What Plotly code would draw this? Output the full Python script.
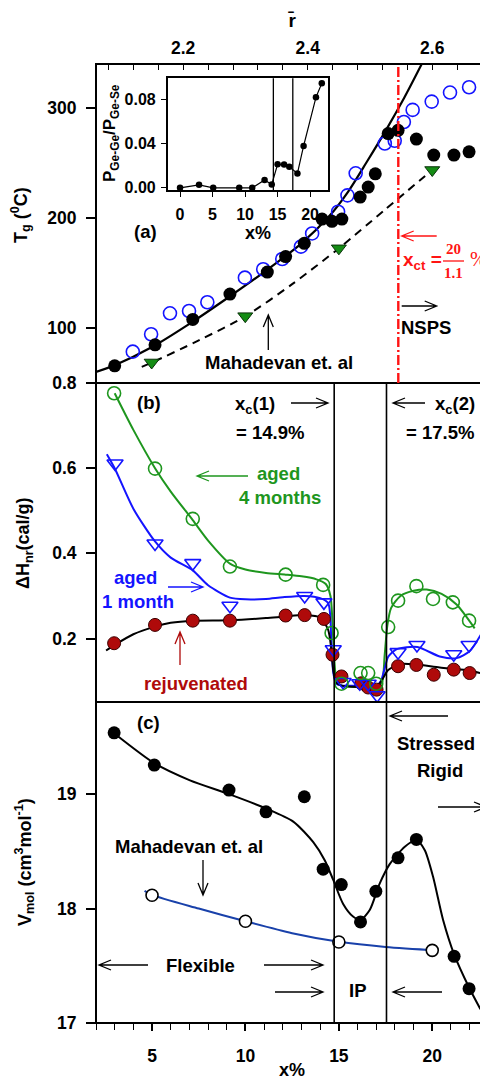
import plotly.graph_objects as go

# ---------------- data ----------------
# panel (a): Tg vs x%
tg_black_x = [3.0, 5.16, 7.18, 9.17, 11.17, 12.15, 13.15, 14.1, 14.63, 15.16, 16.14, 16.57, 16.95, 17.64, 18.17, 19.15, 20.08, 21.16, 21.97]
tg_black_y = [66, 85, 108, 131, 151, 165, 177, 199, 197, 199, 219, 228, 240, 276.5, 279.5, 271.5, 257, 257, 260]
tg_blue_x = [3.97, 4.95, 5.96, 6.98, 7.96, 9.97, 10.95, 11.97, 12.97, 13.57, 14.96, 15.46, 15.9, 17.46, 17.99, 18.48, 18.95, 19.97, 20.95, 21.97]
tg_blue_y = [78.8, 94.6, 113.6, 115.7, 123.6, 145.9, 153.5, 162.8, 174, 186, 205.7, 220.5, 240.5, 267.5, 270, 287, 298, 305.5, 313.7, 318.5]
tg_mah_x = [4.98, 9.99, 15.0, 20.0]
tg_mah_y = [69, 111, 172.5, 243.5]
tg_fit_x = [2.0, 3.0, 5.0, 7.0, 9.0, 11.0, 13.0, 14.5, 15.5, 16.5, 17.5, 18.5, 19.45]
tg_fit_y = [60.5, 66.5, 83, 104, 127, 151, 177, 202, 224, 251, 279, 309, 340]
tg_mahfit_x = [4.45, 5.0, 7.5, 10.0, 12.5, 15.0, 17.5, 20.0]
tg_mahfit_y = [65, 69, 89, 111, 140, 172.5, 208, 243.5]
x_ct = 20 / 1.1

# inset: P(Ge-Ge)/P(Ge-Se)
ins_x = [0, 2.92, 5.1, 9.1, 11.1, 13.0, 14.1, 15.0, 16.0, 16.8, 18.05, 19.0, 20.9, 21.8]
ins_y = [0.0, 0.0027, 0.0, 0.0, 0.0, 0.007, 0.003, 0.0212, 0.021, 0.019, 0.013, 0.0378, 0.0818, 0.0945]
ins_lines = [14.35, 17.34]

# panel (b): dH_nr vs x%
dh_g_x = [2.97, 5.16, 7.18, 9.17, 12.15, 14.16, 14.61, 15.14, 16.16, 16.57, 17.0, 17.64, 18.17, 19.15, 20.04, 21.1, 21.97]
dh_g_y = [0.776, 0.599, 0.481, 0.369, 0.350, 0.326, 0.213, 0.094, 0.119, 0.119, 0.094, 0.227, 0.289, 0.323, 0.293, 0.285, 0.242]
dh_b_x = [3.02, 5.16, 7.18, 9.17, 13.17, 14.2, 14.7, 15.23, 16.12, 16.57, 17.05, 18.17, 19.18, 21.15, 21.97]
dh_b_y = [0.611, 0.423, 0.377, 0.277, 0.300, 0.285, 0.175, 0.098, 0.095, 0.094, 0.067, 0.168, 0.185, 0.163, 0.185]
dh_r_x = [2.97, 5.16, 7.18, 9.17, 12.15, 13.17, 14.2, 14.66, 15.14, 16.2, 16.57, 17.02, 18.17, 19.15, 20.08, 21.15, 22.0]
dh_r_y = [0.189, 0.232, 0.242, 0.242, 0.254, 0.255, 0.246, 0.162, 0.111, 0.095, 0.085, 0.080, 0.135, 0.138, 0.115, 0.127, 0.119]
fit_g_x = [3.0, 4.0, 5.16, 6.0, 7.18, 8.0, 9.17, 10.0, 11.1, 12.15, 13.0, 13.8, 14.3, 14.55, 14.7, 14.85, 15.1, 16.0, 17.0, 17.3, 17.45, 17.6, 17.8, 18.3, 19.0, 19.7, 20.5, 21.3, 22.27]
fit_g_y = [0.776, 0.69, 0.600, 0.545, 0.478, 0.43, 0.376, 0.362, 0.354, 0.350, 0.346, 0.339, 0.328, 0.300, 0.200, 0.110, 0.090, 0.087, 0.087, 0.095, 0.160, 0.232, 0.272, 0.300, 0.312, 0.315, 0.305, 0.280, 0.224]
fit_b_x = [2.58, 3.0, 4.0, 5.16, 6.0, 7.18, 8.0, 9.17, 10.0, 11.1, 12.0, 13.15, 14.0, 14.43, 14.6, 14.7, 14.85, 15.1, 16.0, 17.0, 17.25, 17.45, 17.65, 18.1, 19.2, 20.4, 21.3, 22.0, 22.6]
fit_b_y = [0.633, 0.600, 0.505, 0.428, 0.390, 0.360, 0.325, 0.296, 0.292, 0.293, 0.297, 0.300, 0.295, 0.283, 0.190, 0.120, 0.095, 0.090, 0.089, 0.089, 0.100, 0.130, 0.158, 0.175, 0.180, 0.158, 0.154, 0.170, 0.209]
fit_r_x = [2.54, 3.0, 4.0, 5.16, 6.0, 7.18, 9.17, 11.1, 12.15, 13.15, 14.0, 14.43, 14.6, 14.7, 14.85, 15.1, 16.0, 17.0, 17.3, 17.64, 18.27, 19.15, 20.4, 21.8, 22.56]
fit_r_y = [0.172, 0.185, 0.210, 0.228, 0.237, 0.242, 0.243, 0.248, 0.252, 0.255, 0.250, 0.220, 0.173, 0.126, 0.097, 0.090, 0.086, 0.086, 0.102, 0.126, 0.140, 0.139, 0.132, 0.126, 0.119]
xc1 = 14.75
xc2 = 17.55

# panel (c): V_mol vs x%
vm_x = [2.97, 5.12, 9.12, 11.1, 13.15, 14.16, 15.13, 16.16, 16.98, 18.17, 19.15, 21.17, 21.97]
vm_y = [19.536, 19.254, 19.035, 18.845, 18.977, 18.344, 18.21, 17.883, 18.151, 18.443, 18.604, 17.583, 17.30]
vm_mah_x = [5.0, 10.0, 15.0, 20.0]
vm_mah_y = [18.116, 17.889, 17.708, 17.635]
vm_fit_x = [3.02, 5.12, 7.03, 9.12, 11.1, 12.56, 13.63, 14.25, 14.7, 15.23, 15.76, 16.16, 16.66, 17.19, 17.73, 18.53, 19.15, 19.6, 20.04, 20.58, 21.17, 21.97, 22.58]
vm_fit_y = [19.525, 19.27, 19.12, 19.0, 18.875, 18.76, 18.58, 18.42, 18.25, 18.04, 17.93, 17.9, 17.99, 18.22, 18.39, 18.54, 18.6, 18.51, 18.28, 17.9, 17.6, 17.31, 17.12]
vm_mahfit_x = [4.6, 5.0, 7.5, 10.0, 12.5, 15.0, 17.5, 20.3]
vm_mahfit_y = [18.155, 18.12, 18.0, 17.889, 17.785, 17.71, 17.665, 17.635]

# axis ticks
x_ticks = [5, 10, 15, 20]
r_ticks = [2.2, 2.4, 2.6]
tg_ticks = [100, 200, 300]
dh_ticks = [0.2, 0.4, 0.6, 0.8]
vm_ticks = [17, 18, 19]
ins_xticks = [0, 5, 10, 15, 20]
ins_yticks = [0.0, 0.04, 0.08]

# ---------------- layout helpers ----------------
# page body has an 8px margin, so the figure is drawn 8px lower/right
OFF = 8
WF, HF = 480, 1070
L, R, T, B = 96, 487, 64, 1023          # plot frame in screen pixels
FONT = "Liberation Sans, Arial, sans-serif"
SERIF = "Liberation Serif, DejaVu Serif, serif"
X_RANGE = [2.0, 22.93]
R_RANGE = [2 + 0.03 * X_RANGE[0], 2 + 0.03 * X_RANGE[1]]
DC = (B - 702) / (B - T)   # top of panel c
DB = (B - 383) / (B - T)   # top of panel b

BLUE = "rgb(20,20,255)"
GREEN = "rgb(30,150,30)"
DRED = "rgb(175,10,10)"
RED = "rgb(255,20,20)"
NAVY = "rgb(25,65,170)"
TS = 18.5   # annotation text size


def P(px, py):
    return (px - L) / (R - L), (B - py) / (B - T)


shapes = []
annotations = []


def arrow(x0, y0, x1, y1, color="black", head=12, half=5, width=1.3):
    dx, dy = x1 - x0, y1 - y0
    n = (dx * dx + dy * dy) ** 0.5
    ux, uy = dx / n, dy / n
    bx, by = x1 - ux * head, y1 - uy * head
    px_, py_ = -uy * half, ux * half
    pts = [(x0, y0), (x1, y1), (bx + px_, by + py_), (bx - px_, by - py_)]
    q = [P(*p) for p in pts]
    path = (f"M{q[0][0]},{q[0][1]} L{q[1][0]},{q[1][1]} "
            f"M{q[2][0]},{q[2][1]} L{q[1][0]},{q[1][1]} L{q[3][0]},{q[3][1]}")
    shapes.append(dict(type="path", xref="paper", yref="paper", path=path,
                       line=dict(color=color, width=width)))


def text(t, px, py, size=TS, color="black", family=FONT, xanchor="center", angle=0, bold=True):
    x, y = P(px, py)
    annotations.append(dict(text=(f"<b>{t}</b>" if bold else t), x=x, y=y, xref="paper", yref="paper",
                            showarrow=False, xanchor=xanchor, yanchor="middle", textangle=angle,
                            font=dict(size=size, color=color, family=family)))


# ---------------- figure ----------------
fig = go.Figure()
XA, YA, YB, YC = "x", "y3", "y2", "y"

# panel (a)
fig.add_trace(go.Scatter(x=tg_fit_x, y=tg_fit_y, xaxis=XA, yaxis=YA, mode="lines",
                         line=dict(color="black", width=2.2, shape="spline", smoothing=0.8), hoverinfo="skip"))
fig.add_trace(go.Scatter(x=tg_mahfit_x, y=tg_mahfit_y, xaxis=XA, yaxis=YA, mode="lines",
                         line=dict(color="black", width=2, dash="8px,6px", shape="spline", smoothing=0.8), hoverinfo="skip"))
fig.add_trace(go.Scatter(x=tg_blue_x, y=tg_blue_y, xaxis=XA, yaxis=YA, mode="markers",
                         marker=dict(symbol="circle-open", size=13, color=BLUE, line=dict(width=1.6))))
fig.add_trace(go.Scatter(x=tg_black_x, y=tg_black_y, xaxis=XA, yaxis=YA, mode="markers",
                         marker=dict(symbol="circle", size=13, color="black")))
fig.add_trace(go.Scatter(x=tg_mah_x, y=tg_mah_y, xaxis=XA, yaxis=YA, mode="markers",
                         marker=dict(symbol="triangle-down", size=13, color="rgb(20,140,20)",
                                     line=dict(color="rgb(10,50,10)", width=1))))
# invisible trace so that the top (r-bar) axis is drawn
fig.add_trace(go.Scatter(x=R_RANGE, y=[None, None], xaxis="x2", yaxis=YA, mode="markers",
                         marker=dict(opacity=0), hoverinfo="skip"))

# inset
fig.add_trace(go.Scatter(x=ins_x, y=ins_y, xaxis="x4", yaxis="y4", mode="lines+markers",
                         line=dict(color="black", width=1.2), marker=dict(size=6.5, color="black")))

# panel (b)
fig.add_trace(go.Scatter(x=fit_g_x, y=fit_g_y, xaxis=XA, yaxis=YB, mode="lines",
                         line=dict(color=GREEN, width=2, shape="spline", smoothing=0.7), hoverinfo="skip"))
fig.add_trace(go.Scatter(x=fit_b_x, y=fit_b_y, xaxis=XA, yaxis=YB, mode="lines",
                         line=dict(color=BLUE, width=2, shape="spline", smoothing=0.7), hoverinfo="skip"))
fig.add_trace(go.Scatter(x=fit_r_x, y=fit_r_y, xaxis=XA, yaxis=YB, mode="lines",
                         line=dict(color="black", width=2, shape="spline", smoothing=0.7), hoverinfo="skip"))
fig.add_trace(go.Scatter(x=dh_r_x, y=dh_r_y, xaxis=XA, yaxis=YB, mode="markers",
                         marker=dict(symbol="circle", size=13, color=DRED, line=dict(color="rgb(60,0,0)", width=1))))
fig.add_trace(go.Scatter(x=dh_b_x, y=dh_b_y, xaxis=XA, yaxis=YB, mode="markers",
                         marker=dict(symbol="triangle-down-open", size=14, color=BLUE, line=dict(width=1.6))))
fig.add_trace(go.Scatter(x=dh_g_x, y=dh_g_y, xaxis=XA, yaxis=YB, mode="markers",
                         marker=dict(symbol="circle-open", size=13, color=GREEN, line=dict(width=1.6))))

# panel (c)
fig.add_trace(go.Scatter(x=vm_fit_x, y=vm_fit_y, xaxis=XA, yaxis=YC, mode="lines",
                         line=dict(color="black", width=2, shape="spline", smoothing=0.7), hoverinfo="skip"))
fig.add_trace(go.Scatter(x=vm_mahfit_x, y=vm_mahfit_y, xaxis=XA, yaxis=YC, mode="lines",
                         line=dict(color=NAVY, width=2, shape="spline", smoothing=0.8), hoverinfo="skip"))
fig.add_trace(go.Scatter(x=vm_x, y=vm_y, xaxis=XA, yaxis=YC, mode="markers",
                         marker=dict(symbol="circle", size=13, color="black")))
fig.add_trace(go.Scatter(x=vm_mah_x, y=vm_mah_y, xaxis=XA, yaxis=YC, mode="markers",
                         marker=dict(symbol="circle", size=12, color="white", line=dict(color="black", width=1.6))))

# ---------------- shapes ----------------
shapes.append(dict(type="rect", xref="paper", yref="paper", x0=0, x1=1, y0=0, y1=1,
                   line=dict(color="black", width=2)))
for yy in (DC, DB):
    shapes.append(dict(type="line", xref="paper", yref="paper", x0=0, x1=1, y0=yy, y1=yy,
                       line=dict(color="black", width=2)))
for xv in (xc1, xc2):
    shapes.append(dict(type="line", xref="x", yref="paper", x0=xv, x1=xv, y0=0, y1=DB,
                       line=dict(color="black", width=1.6)))
for xv in ins_lines:
    shapes.append(dict(type="line", xref="x4", yref="y4 domain", x0=xv, x1=xv, y0=0, y1=1,
                       line=dict(color="black", width=1.3)))
shapes.append(dict(type="line", xref="x", yref="y3 domain", x0=x_ct, x1=x_ct, y0=0, y1=1,
                   line=dict(color=RED, width=2.4, dash="10px,3px,2px,3px")))

# ---------------- annotations ----------------
# panel (a)
text("(a)", 145, 231)
arrow(436.7, 236, 401.7, 236, color=RED)
text("x<sub>ct</sub> =", 401, 261, 19, RED, xanchor="left")
text("20", 453, 249, 15, RED, family=SERIF)
text("1.1", 453, 273, 15, RED, family=SERIF)
shapes.append(dict(type="line", xref="paper", yref="paper",
                   x0=P(443, 261)[0], x1=P(464, 261)[0], y0=P(443, 261)[1], y1=P(443, 261)[1],
                   line=dict(color=RED, width=1.3)))
text("%", 478, 259, 20, RED, family=SERIF, bold=False)
arrow(401.7, 306, 436.7, 306)
text("NSPS", 426, 327)
arrow(268.3, 350, 268.3, 315)
text("Mahadevan et. al", 279, 363)

# panel (b)
text("(b)", 149, 402)
text("x<sub>c</sub>(1)", 255, 405)
arrow(291, 403, 328, 403)
text("= 14.9%", 270, 432)
arrow(425, 403, 393, 403)
text("x<sub>c</sub>(2)", 455, 405)
text("= 17.5%", 440, 432)
arrow(248, 476, 197, 476, color=GREEN)
text("aged", 278, 473, color=GREEN)
text("4 months", 280, 497, color=GREEN)
text("aged", 135, 577, color=BLUE)
text("1 month", 138, 601, color=BLUE)
arrow(168, 587, 203, 587, color=BLUE)
arrow(180, 665, 180, 632, color=DRED)
text("rejuvenated", 196, 683, color=DRED)

# panel (c)
text("(c)", 148, 722)
arrow(448, 716, 390, 716)
text("Stressed", 436, 743)
text("Rigid", 440, 770)
arrow(438, 807, 486, 807)
text("Mahadevan et. al", 189, 846)
arrow(203, 860, 203, 895)
text("Flexible", 200, 965)
arrow(148, 965, 99, 965)
arrow(264, 965, 323, 965)
arrow(275, 992, 323, 992)
text("IP", 357, 990)
arrow(442, 992, 393, 992)

# axis titles
text("T<sub>g</sub> (<sup>0</sup>C)", 20, 215, 18, angle=-90)
text("ΔH<sub>nr</sub>(cal/g)", 24, 543, 18, angle=-90)
text("V<sub>mol</sub> (cm<sup>3</sup>mol<sup>-1</sup>)", 24, 862, 18, angle=-90)
text("x%", 292, 1070, 18)
text("r\u0304", 292, 21, 19)
text("x%", 258, 233, 18)
text("P<sub>Ge-Ge</sub>/P<sub>Ge-Se</sub>", 111, 133, 17, angle=-90)

tickfont = dict(family=FONT, size=17.5, color="black", weight="bold")
ins_tickfont = dict(family=FONT, size=16, color="black", weight="bold")

fig.update_layout(
    width=WF, height=HF,
    margin=dict(l=L - OFF, r=WF - (R - OFF), t=T - OFF, b=HF - (B - OFF)),
    paper_bgcolor="white", plot_bgcolor="white",
    showlegend=False,
    font=dict(family=FONT, color="black"),
    shapes=shapes, annotations=annotations,
    xaxis=dict(domain=[0, 1], anchor="y", range=X_RANGE, tickmode="array", tickvals=x_ticks,
               ticks="outside", ticklen=7, tickwidth=1.5, tickcolor="black", showgrid=False,
               zeroline=False, showline=False, tickfont=tickfont, ticklabelstandoff=10,
               minor=dict(tickmode="linear", tick0=0, dtick=1, ticks="outside", ticklen=6,
                          tickwidth=1.3, tickcolor="black", showgrid=False)),
    xaxis2=dict(overlaying="x", anchor="y3", side="top", range=R_RANGE, tickmode="array",
                tickvals=r_ticks, ticktext=[f"{v:.1f}" for v in r_ticks],
                ticks="inside", ticklen=6, tickwidth=1.3, tickcolor="black", showgrid=False,
                zeroline=False, showline=False, tickfont=tickfont, ticklabelstandoff=6,
                minor=dict(tickmode="linear", tick0=2.2, dtick=0.04, ticks="inside", ticklen=6,
                           tickwidth=1.3, tickcolor="black", showgrid=False)),
    yaxis=dict(domain=[0, DC], anchor="x", range=[17, 19.805], tickmode="array", tickvals=vm_ticks,
               ticks="outside", ticklen=9, tickwidth=1.5, tickcolor="black", showgrid=False,
               zeroline=False, showline=False, tickfont=tickfont, ticklabelstandoff=6),
    yaxis2=dict(domain=[DC, DB], anchor="x", range=[0.051, 0.8], tickmode="array", tickvals=dh_ticks,
                ticktext=[f"{v:.1f}" for v in dh_ticks],
                ticks="outside", ticklen=9, tickwidth=1.5, tickcolor="black", showgrid=False,
                zeroline=False, showline=False, tickfont=tickfont, ticklabelstandoff=6),
    yaxis3=dict(domain=[DB, 1], anchor="x", range=[50.4, 339.6], tickmode="array", tickvals=tg_ticks,
                ticks="outside", ticklen=9, tickwidth=1.5, tickcolor="black", showgrid=False,
                zeroline=False, showline=False, tickfont=tickfont, ticklabelstandoff=6),
    xaxis4=dict(domain=[P(167.7, 0)[0], P(328.3, 0)[0]], anchor="y4", range=[-1.9, 22.8],
                tickmode="array", tickvals=ins_xticks, ticks="outside", ticklen=5, tickwidth=1.3,
                tickcolor="black", showline=True, linecolor="black", linewidth=1.5, mirror=True,
                showgrid=False, zeroline=False, tickfont=ins_tickfont, ticklabelstandoff=4),
    yaxis4=dict(domain=[P(0, 190)[1], P(0, 78.3)[1]], anchor="x4", range=[-0.002, 0.099],
                tickmode="array", tickvals=ins_yticks, ticktext=[f"{v:.2f}" for v in ins_yticks],
                ticks="outside", ticklen=5, tickwidth=1.3,
                tickcolor="black", showline=True, linecolor="black", linewidth=1.5, mirror=True,
                showgrid=False, zeroline=False, tickfont=ins_tickfont, ticklabelstandoff=2),
)

fig.write_html("out.html")
